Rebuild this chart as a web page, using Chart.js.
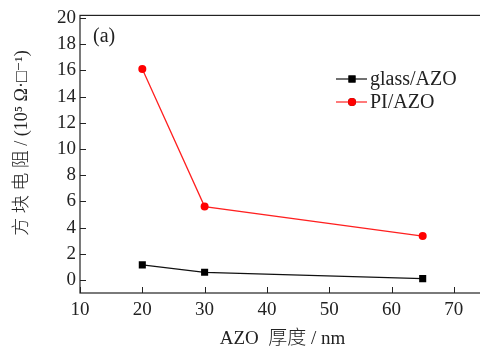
<!DOCTYPE html>
<html><head><meta charset="utf-8">
<script src="https://cdn.jsdelivr.net/npm/chart.js@4/dist/chart.umd.min.js"></script>
<style>html,body{margin:0;padding:0;overflow:hidden;background:#fff;width:480px;height:350px}#wrap{width:490px;height:350px}</style>
</head><body><div id="wrap"><canvas id="c" width="490" height="350"></canvas></div>
<script>
const thickness = [20, 30, 65];
const glassAZO = [1.15, 0.58, 0.1];
const piAZO = [16.1, 5.6, 3.35];
const xTicks = [10, 20, 30, 40, 50, 60, 70];
const yTicks = [0, 2, 4, 6, 8, 10, 12, 14, 16, 18, 20];
const seriesNames = ['glass/AZO', 'PI/AZO'];
const panelLabel = '(a)';
const xTitle = 'AZO  厚度 / nm';
const yTitle = '     方 块 电 阻 / (10⁵ Ω·□⁻¹)';

const SERIF = '"Liberation Serif","DejaVu Serif","Noto Sans CJK SC",serif';

const framePlugin = {
  id: 'frame',
  afterDatasetsDraw(chart) {
    const {ctx, chartArea: a, scales: {x, y}} = chart;
    ctx.save();
    ctx.strokeStyle = '#222';
    ctx.lineWidth = 1.2;
    ctx.strokeRect(a.left, a.top, a.right - a.left, a.bottom - a.top);
    ctx.beginPath();
    xTicks.forEach(v => { const px = Math.round(x.getPixelForValue(v)) + 0.5; ctx.moveTo(px, a.bottom); ctx.lineTo(px, a.bottom - 6); });
    yTicks.forEach(v => { const py = Math.round(y.getPixelForValue(v)) + 0.5; ctx.moveTo(a.left, py); ctx.lineTo(a.left + 6, py); });
    ctx.lineWidth = 1;
    ctx.stroke();
    // panel label
    ctx.fillStyle = '#222';
    ctx.font = '20px ' + SERIF;
    ctx.textBaseline = 'middle';
    ctx.fillText(panelLabel, a.left + 13, a.top + 21);
    // legend
    const lx = 336, ly0 = 79, dy = 23;
    chart.data.datasets.forEach((ds, i) => {
      const ly = ly0 + i * dy;
      ctx.strokeStyle = ds.borderColor;
      ctx.lineWidth = 1.2;
      ctx.beginPath(); ctx.moveTo(lx, ly); ctx.lineTo(lx + 31, ly); ctx.stroke();
      Chart.helpers.drawPoint(ctx, {pointStyle: ds.pointStyle, radius: ds.pointRadius, borderWidth: 0}, lx + 16, ly);
      ctx.fillStyle = ds.pointBackgroundColor;
      ctx.fill();
      ctx.fillStyle = '#222';
      ctx.font = '20px ' + SERIF;
      ctx.fillText(ds.label, lx + 34, ly + 1);
    });
    ctx.restore();
  }
};

new Chart(document.getElementById('c'), {
  type: 'line',
  data: {
    datasets: [
      {label: seriesNames[0], data: thickness.map((t, i) => ({x: t, y: glassAZO[i]})), borderColor: '#111', backgroundColor: '#111', pointBackgroundColor: '#000', pointBorderWidth: 0, pointStyle: 'rect', pointRadius: 5, borderWidth: 1.3, tension: 0},
      {label: seriesNames[1], data: thickness.map((t, i) => ({x: t, y: piAZO[i]})), borderColor: '#ff2020', backgroundColor: '#ff0000', pointBackgroundColor: '#ff0000', pointBorderWidth: 0, pointStyle: 'circle', pointRadius: 4, borderWidth: 1.3, tension: 0}
    ]
  },
  options: {
    animation: false, responsive: false, devicePixelRatio: 1,
    layout: {padding: {top: 13, left: 0, right: 5, bottom: 0}},
    plugins: {legend: {display: false}, tooltip: {enabled: false}},
    scales: {
      x: {
        type: 'linear', min: 10, max: 75,
        afterBuildTicks: s => { s.ticks = xTicks.map(v => ({value: v})); },
        afterFit: s => { s.height = 57; },
        grid: {display: false, drawTicks: false},
        border: {display: false},
        ticks: {color: '#222', padding: 6, font: {family: SERIF, size: 19}},
        title: {display: true, text: xTitle, color: '#222', padding: {top: 0, bottom: 0}, font: {family: SERIF, size: 19, weight: 300}}
      },
      y: {
        type: 'linear', min: -1, max: 20.2,
        afterBuildTicks: s => { s.ticks = yTicks.map(v => ({value: v})); },
        afterFit: s => { s.width = 80; },
        grid: {display: false, drawTicks: false},
        border: {display: false},
        ticks: {color: '#222', padding: 4, font: {family: SERIF, size: 19}},
        title: {display: true, text: yTitle, color: '#222', padding: {top: 11, bottom: 0}, font: {family: SERIF, size: 18, weight: 300}}
      }
    }
  },
  plugins: [framePlugin]
});
</script></body></html>
